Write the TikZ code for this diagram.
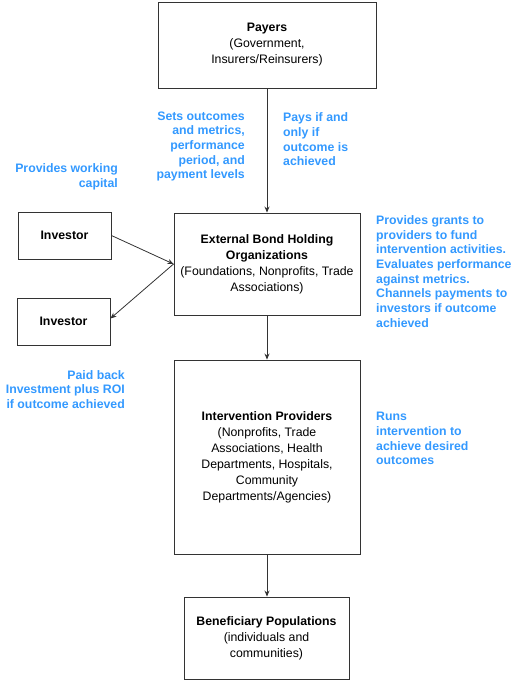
\documentclass[tikz,border=0pt]{standalone}
\usepackage{fontspec}
\setmainfont{Liberation Sans}
\usetikzlibrary{arrows.meta}
\definecolor{lblue}{HTML}{3399FF}
\definecolor{lineg}{HTML}{333333}
\tikzset{
  box/.style={draw=lineg, line width=0.9pt, align=center, inner sep=2pt,
    font=\fontsize{12.3}{16}\selectfont},
  note/.style={text=lblue, inner sep=0pt, font=\fontsize{12.3}{14.7}\selectfont\bfseries},
  conn/.style={draw=lineg, line width=0.8pt, -{Stealth[length=6pt,width=5pt]}}
}
\begin{document}
\begin{tikzpicture}[x=1pt,y=1pt]
\useasboundingbox (0,0) rectangle (518,-681);
\node[box, minimum width=218pt, minimum height=86pt] (pay) at (267,-45)
  {\textbf{Payers}\\(Government,\\Insurers/Reinsurers)};
\node[box, minimum width=186pt, minimum height=102pt] (ebho) at (267,-264)
  {\textbf{External Bond Holding}\\\textbf{Organizations}\\(Foundations, Nonprofits, Trade\\Associations)};
\node[box, minimum width=93pt, minimum height=47pt] (inv1) at (64.5,-235.5) {\textbf{Investor}};
\node[box, minimum width=93pt, minimum height=47pt] (inv2) at (63.5,-321.5) {\textbf{Investor}};
\node[box, minimum width=186pt, minimum height=194pt] (ip) at (267,-457)
  {\textbf{Intervention Providers}\\(Nonprofits, Trade\\Associations, Health\\Departments, Hospitals,\\Community\\Departments/Agencies)};
\node[box, minimum width=165pt, minimum height=82pt] (bp) at (266.5,-638)
  {\textbf{Beneficiary Populations}\\(individuals and\\communities)};

\node[note, anchor=east, align=right] (n1) at (245,-146.5)
  {Sets outcomes\\and metrics,\\performance\\period, and\\payment levels};
\node[note, anchor=west, align=left] (n2) at (283,-139.5)
  {Pays if and\\only if\\outcome is\\achieved};
\node[note, anchor=east, align=right] (n3) at (118,-176.5)
  {Provides working\\capital};
\node[note, anchor=west, align=left] (n4) at (376,-271.5)
  {Provides grants to\\providers to fund\\intervention activities.\\Evaluates performance\\against metrics.\\Channels payments to\\investors if outcome\\achieved};
\node[note, anchor=east, align=right] (n5) at (125,-389.5)
  {Paid back\\Investment plus ROI\\if outcome achieved};
\node[note, anchor=west, align=left] (n6) at (376,-438.5)
  {Runs\\intervention to\\achieve desired\\outcomes};

\draw[conn] (pay.south) -- (ebho.north);
\draw[conn] (inv1.east) -- (ebho.west);
\draw[conn] (ebho.west) -- ([yshift=3pt]inv2.east);
\draw[conn] (ebho.south) -- (ip.north);
\draw[conn] (ip.south) -- ([xshift=0.5pt]bp.north);
\end{tikzpicture}
\end{document}
